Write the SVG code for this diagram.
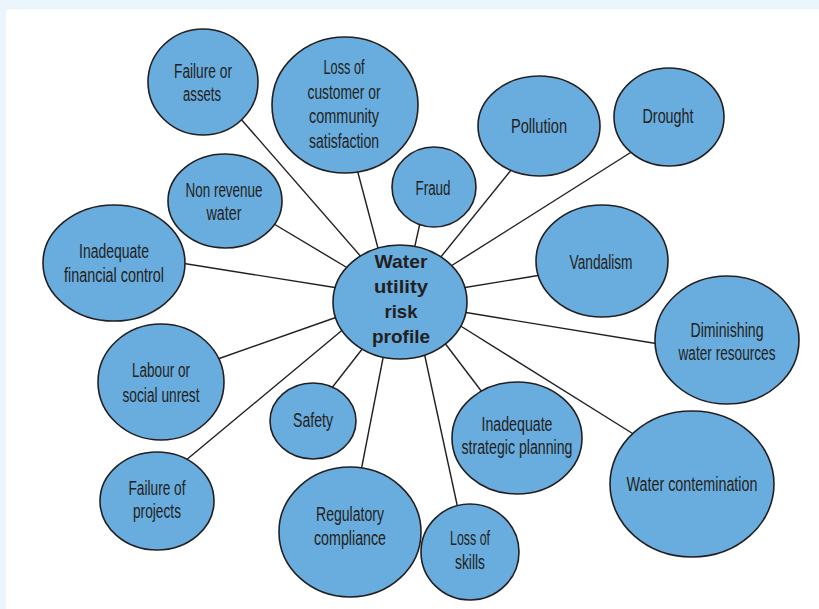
<svg xmlns="http://www.w3.org/2000/svg" width="819" height="609" viewBox="0 0 819 609">
<style>
.bg{fill:#EAF5FC}
.panel{fill:#FFFFFF}
.node ellipse{fill:#69ACDE;stroke:#231F20;stroke-width:1.6}
.node text{font-family:"Liberation Sans Narrow","Liberation Sans",Arial,sans-serif;font-size:20px;fill:#231F20;text-anchor:middle}
#center text{font-family:"Liberation Sans",Arial,sans-serif;font-weight:bold;font-size:19px}
#connectors line{stroke:#231F20;stroke-width:1.4}
</style>
<rect class="bg" x="0" y="0" width="819" height="609"/>
<rect class="panel" x="6" y="9.5" width="813" height="600"/>
<g id="connectors">
<line x1="240" y1="118" x2="363" y2="259"/>
<line x1="357" y1="169" x2="379" y2="252"/>
<line x1="420" y1="223" x2="414" y2="250"/>
<line x1="512" y1="169" x2="440" y2="258"/>
<line x1="633" y1="151" x2="451" y2="266"/>
<line x1="274" y1="224" x2="351" y2="270"/>
<line x1="181" y1="263" x2="338" y2="288"/>
<line x1="541" y1="275" x2="462" y2="288"/>
<line x1="659" y1="344" x2="463" y2="312"/>
<line x1="215" y1="360" x2="340" y2="316"/>
<line x1="185" y1="461" x2="346" y2="327"/>
<line x1="331" y1="389" x2="363" y2="348"/>
<line x1="361" y1="471" x2="384" y2="353"/>
<line x1="458" y1="509" x2="424" y2="352"/>
<line x1="482" y1="392" x2="444" y2="342"/>
<line x1="635" y1="435" x2="459" y2="325"/>
</g>
<g id="failure-assets" class="node"><ellipse cx="203" cy="82" rx="55" ry="53"/><text x="203" y="78" textLength="58" lengthAdjust="spacingAndGlyphs">Failure or</text><text x="202" y="101" textLength="38" lengthAdjust="spacingAndGlyphs">assets</text></g>
<g id="loss-customer" class="node"><ellipse cx="345" cy="105" rx="73" ry="68"/><text x="344" y="74" textLength="41" lengthAdjust="spacingAndGlyphs">Loss of</text><text x="344" y="99" textLength="73" lengthAdjust="spacingAndGlyphs">customer or</text><text x="344" y="123" textLength="70" lengthAdjust="spacingAndGlyphs">community</text><text x="344" y="148" textLength="70" lengthAdjust="spacingAndGlyphs">satisfaction</text></g>
<g id="pollution" class="node"><ellipse cx="539" cy="126" rx="61" ry="50"/><text x="539" y="133" textLength="56" lengthAdjust="spacingAndGlyphs">Pollution</text></g>
<g id="drought" class="node"><ellipse cx="669" cy="117" rx="55" ry="49"/><text x="668" y="123" textLength="51" lengthAdjust="spacingAndGlyphs">Drought</text></g>
<g id="fraud" class="node"><ellipse cx="434" cy="187" rx="42" ry="40"/><text x="433" y="195" textLength="35" lengthAdjust="spacingAndGlyphs">Fraud</text></g>
<g id="non-revenue" class="node"><ellipse cx="225" cy="201" rx="57" ry="47"/><text x="224" y="197" textLength="77" lengthAdjust="spacingAndGlyphs">Non revenue</text><text x="224" y="220" textLength="35" lengthAdjust="spacingAndGlyphs">water</text></g>
<g id="financial-control" class="node"><ellipse cx="114" cy="263" rx="71" ry="58"/><text x="114" y="258" textLength="70" lengthAdjust="spacingAndGlyphs">Inadequate</text><text x="114" y="282" textLength="100" lengthAdjust="spacingAndGlyphs">financial control</text></g>
<g id="vandalism" class="node"><ellipse cx="602" cy="261" rx="66" ry="56"/><text x="601" y="269" textLength="63" lengthAdjust="spacingAndGlyphs">Vandalism</text></g>
<g id="diminishing" class="node"><ellipse cx="727" cy="340" rx="72" ry="64"/><text x="727" y="337" textLength="73" lengthAdjust="spacingAndGlyphs">Diminishing</text><text x="727" y="360" textLength="97" lengthAdjust="spacingAndGlyphs">water resources</text></g>
<g id="labour" class="node"><ellipse cx="161" cy="382" rx="63" ry="58"/><text x="161" y="377" textLength="58" lengthAdjust="spacingAndGlyphs">Labour or</text><text x="161" y="402" textLength="77" lengthAdjust="spacingAndGlyphs">social unrest</text></g>
<g id="safety" class="node"><ellipse cx="313" cy="421" rx="43" ry="38"/><text x="313" y="427" textLength="40" lengthAdjust="spacingAndGlyphs">Safety</text></g>
<g id="strategic-planning" class="node"><ellipse cx="517" cy="438" rx="65" ry="56"/><text x="517" y="431" textLength="71" lengthAdjust="spacingAndGlyphs">Inadequate</text><text x="517" y="454" textLength="111" lengthAdjust="spacingAndGlyphs">strategic planning</text></g>
<g id="water-contemination" class="node"><ellipse cx="692" cy="484" rx="82" ry="73"/><text x="692" y="491" textLength="131" lengthAdjust="spacingAndGlyphs">Water contemination</text></g>
<g id="failure-projects" class="node"><ellipse cx="157" cy="501" rx="57" ry="49"/><text x="157" y="495" textLength="57" lengthAdjust="spacingAndGlyphs">Failure of</text><text x="157" y="518" textLength="48" lengthAdjust="spacingAndGlyphs">projects</text></g>
<g id="regulatory" class="node"><ellipse cx="350" cy="532" rx="71" ry="65"/><text x="350" y="521" textLength="68" lengthAdjust="spacingAndGlyphs">Regulatory</text><text x="350" y="545" textLength="72" lengthAdjust="spacingAndGlyphs">compliance</text></g>
<g id="loss-skills" class="node"><ellipse cx="470" cy="552" rx="49" ry="48"/><text x="470" y="545" textLength="40" lengthAdjust="spacingAndGlyphs">Loss of</text><text x="470" y="569" textLength="30" lengthAdjust="spacingAndGlyphs">skills</text></g>
<g id="center" class="node"><ellipse cx="400" cy="302" rx="67" ry="57"/><text x="401" y="268" textLength="53" lengthAdjust="spacingAndGlyphs">Water</text><text x="401" y="293" textLength="54" lengthAdjust="spacingAndGlyphs">utility</text><text x="401" y="318" textLength="33" lengthAdjust="spacingAndGlyphs">risk</text><text x="401" y="343" textLength="58" lengthAdjust="spacingAndGlyphs">profile</text></g>
</svg>
